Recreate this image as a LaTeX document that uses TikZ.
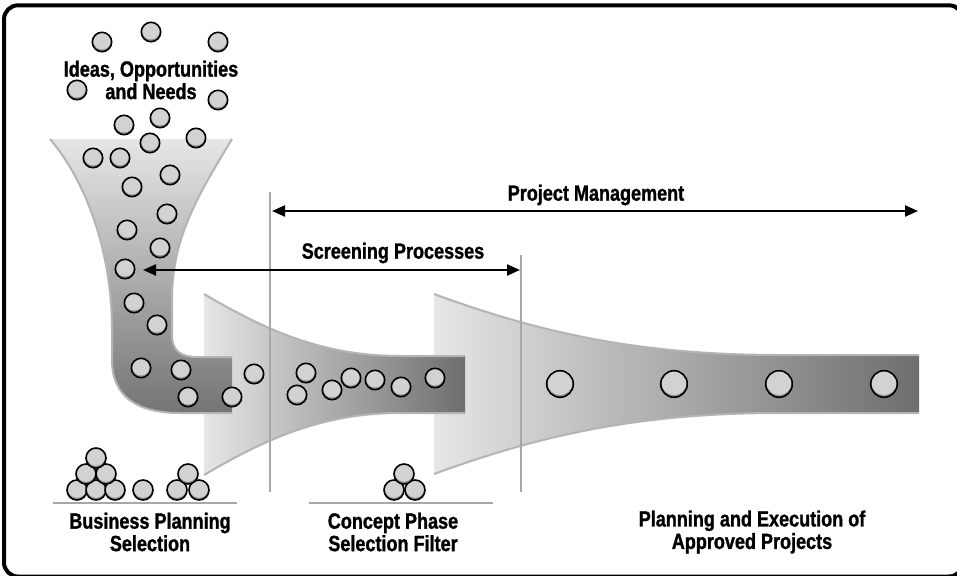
\documentclass[tikz,border=0pt]{standalone}
\usepackage{fontspec}
\newfontfamily\lblfont{Liberation Sans}[FakeStretch=0.82, BoldFeatures={FakeBold=1.2}]
\usetikzlibrary{arrows.meta}

\definecolor{edgegray}{HTML}{B4B4B4}
\definecolor{rulegray}{HTML}{A8A8A8}
\definecolor{ballface}{HTML}{D2D2D2}
\definecolor{ballshade}{HTML}{8C8C8C}
\definecolor{funlight}{HTML}{E6E6E6}
\definecolor{fundark}{HTML}{6E6E6E}
\definecolor{funbottom}{HTML}{747474}

% a shaded marble: x, y, radius (pt)
\newcommand\marble[3]{%
  \fill[ballshade] (#1,#2) circle[radius=#3pt];
  \begin{scope}
    \clip (#1,#2) circle[radius=#3pt];
    \fill[ballface] (#1,{#2-1.4}) circle[radius={#3pt-0.8pt}];
  \end{scope}
  \draw[line width=1.6pt] (#1,#2) circle[radius=#3pt];
}

\tikzset{
  funnel edge/.style={draw=edgegray, line width=2pt},
  guide/.style={draw=rulegray, line width=2pt},
  span arrow/.style={line width=2.2pt,
    {Triangle[length=13pt,width=11pt]}-{Triangle[length=13pt,width=11pt]}},
  label/.style={font=\lblfont\bfseries\fontsize{22}{22.5}\selectfont,
    align=center, inner sep=0pt, text=black},
}

\begin{document}
\begin{tikzpicture}[x=1pt, y=-1pt]
\clip (0,0) rectangle (957,575);
\fill[white] (0,0) rectangle (957,575);

% frame
\draw[line width=4pt, rounded corners=14pt] (4,5.3) rectangle (963,576.5);

% third funnel: planning and execution
\shade[left color=funlight, right color=fundark]
  (434,294) .. controls (540,333) and (640,355) .. (780,355) -- (919,355)
  -- (919,413) -- (780,413) .. controls (640,413) and (540,435) .. (434,474) -- cycle;
\draw[funnel edge] (434,294) .. controls (540,333) and (640,355) .. (780,355) -- (919,355);
\draw[funnel edge] (434,474) .. controls (540,435) and (640,413) .. (780,413) -- (919,413);

% second funnel: concept phase
\shade[left color=funlight, right color=fundark]
  (204,294) .. controls (262,328) and (320,356) .. (400,356) -- (465,356)
  -- (465,413) -- (400,413) .. controls (320,413) and (262,441) .. (204,475) -- cycle;
\draw[funnel edge] (204,294) .. controls (262,328) and (320,356) .. (400,356) -- (465,356);
\draw[funnel edge] (204,475) .. controls (262,441) and (320,413) .. (400,413) -- (465,413);

% first funnel: business planning
\shade[top color=funlight, bottom color=funbottom]
  (50,139) -- (232,139) .. controls (195,200) and (172,240) .. (172,300)
  -- (172,335) .. controls (172,350) and (180,357) .. (197,357) -- (232,357)
  -- (232,413) -- (180,413) .. controls (135,413) and (112,395) .. (112,360)
  -- (112,330) .. controls (112,250) and (85,180) .. (50,139) -- cycle;
\draw[funnel edge] (232,139) .. controls (195,200) and (172,240) .. (172,300)
  -- (172,335) .. controls (172,350) and (180,357) .. (197,357) -- (232,357);
\draw[funnel edge] (232,413) -- (180,413) .. controls (135,413) and (112,395) .. (112,360)
  -- (112,330) .. controls (112,250) and (85,180) .. (50,139);

% phase boundaries
\coordinate (b1top) at (270,192);
\coordinate (b1bot) at (270,492);
\coordinate (b2top) at (521,255);
\coordinate (b2bot) at (521,492);
\draw[guide] (b1top) -- (b1bot);
\draw[guide] (b2top) -- (b2bot);

% shelves
\coordinate (s1l) at (53,503);
\coordinate (s1r) at (237,503);
\coordinate (s2l) at (309,503);
\coordinate (s2r) at (493,503);
\draw[guide] (s1l) -- (s1r);
\draw[guide] (s2l) -- (s2r);

% incoming ideas and the flow through the funnels
\foreach \x/\y in {102/42, 151/32, 218/42, 77/90, 218/100, 124/125, 160/118,
  196/138, 150/143, 93/158, 120/158, 170/175, 132/187, 167/214, 127/230,
  160/248, 125/269, 134/303, 157/325, 141/368, 181/370, 188/397, 232/397,
  254/374, 306/373, 297/395, 332/390, 351/378, 375/380, 401/387, 435/378}
  {\marble{\x}{\y}{9.7}}

\foreach \x in {560, 674, 779, 884}
  {\marble{\x}{384}{13.3}}

% selected piles
\foreach \x/\y in {77/490, 96/490, 115/490, 86/474, 106/474, 96/458,
  143/490, 177/490, 199/490, 188/474, 394/490, 415/490, 404/474}
  {\marble{\x}{\y}{10}}

% spans
\coordinate (pmL) at (272,211);
\coordinate (pmR) at (918,211);
\coordinate (spL) at (143,270);
\coordinate (spR) at (520,270);
\draw[span arrow] (pmL) -- (pmR);
\draw[span arrow] (spL) -- (spR);

% labels
\node[label] (ideas) at (151,80) {Ideas, Opportunities\\and Needs};
\node[label] (pm) at (596,195) {Project Management};
\node[label] (sp) at (393,253) {Screening Processes};
\node[label] (bps) at (150,532) {Business Planning\\Selection};
\node[label] (cps) at (393,532) {Concept Phase\\Selection Filter};
\node[label] (pae) at (752,532) {Planning and Execution of\\Approved Projects};
\end{tikzpicture}
\end{document}
